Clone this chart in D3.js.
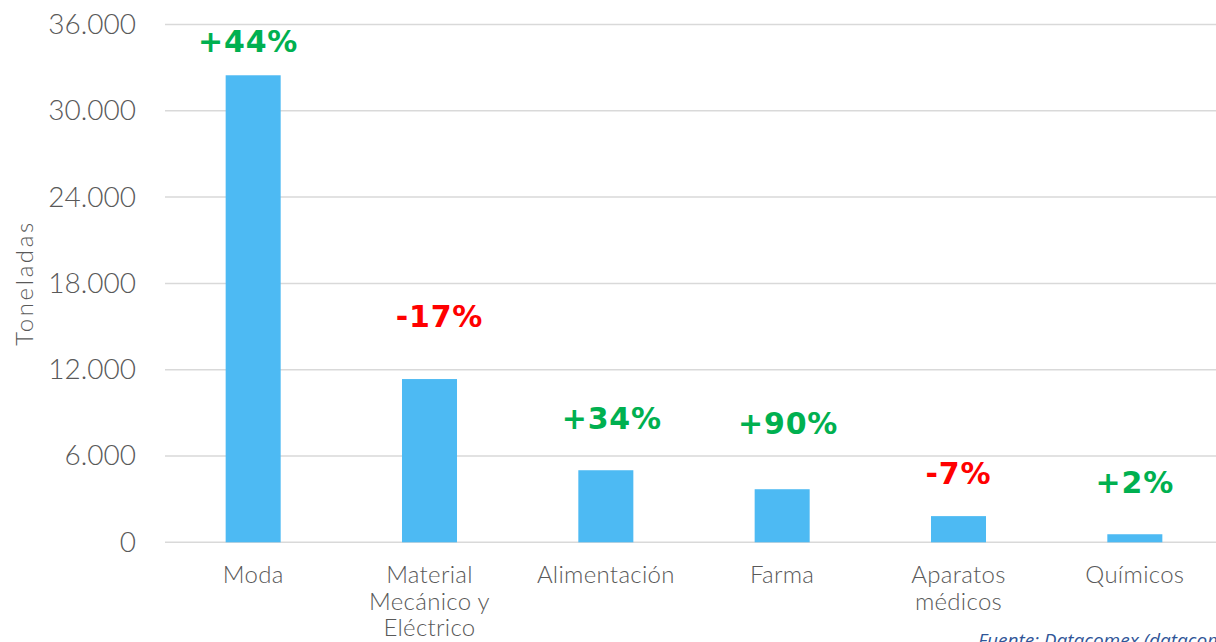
<!DOCTYPE html>
<meta charset="utf-8">
<style>
body { margin: 0; background: #fff; }
svg { display: block; font-family: Lato, "Noto Sans", sans-serif; }
.tick text { fill: #595959; }
</style>
<svg width="1216" height="642"></svg>
<script src="https://d3js.org/d3.v7.min.js"></script>
<script>
// categories (x axis), lines split as in the chart
var categories = ["Moda", "Material Mecánico y Eléctrico", "Alimentación", "Farma", "Aparatos médicos", "Químicos"];
var categoryLines = [["Moda"], ["Material", "Mecánico y", "Eléctrico"], ["Alimentación"], ["Farma"], ["Aparatos", "médicos"], ["Químicos"]];
// toneladas
var toneladas = [32470, 11350, 5010, 3690, 1820, 560];
// variación
var variacion = ["+44%", "-17%", "+34%", "+90%", "-7%", "+2%"];
var yTicks = [0, 6000, 12000, 18000, 24000, 30000, 36000];

// label lift above bar top (px), labels were placed by hand in the original
var labelLift = [23, 52, 41, 55, 32, 41];
var labelShift = [-5, 10, 6, 6, 0, 0];

var svg = d3.select("svg");
var plotLeft = 165, plotRight = 1223, plotTop = 24.5, plotBottom = 542.3;

var x = d3.scaleBand()
    .domain(categories)
    .range([plotLeft, plotRight])
    .paddingInner(0.688)
    .paddingOuter(0.344);

var y = d3.scaleLinear()
    .domain([0, 36000])
    .range([plotBottom, plotTop]);

var fmt = function(d) { return d === 0 ? "0" : d3.format(",")(d).replace(/,/g, "."); };

// gridlines
svg.append("g")
  .selectAll("line")
  .data(yTicks)
  .enter().append("line")
    .attr("x1", plotLeft)
    .attr("x2", plotRight)
    .attr("y1", function(d) { return y(d); })
    .attr("y2", function(d) { return y(d); })
    .attr("stroke", "#d9d9d9")
    .attr("stroke-width", 1.5);

// y axis
var ya = svg.append("g")
    .attr("transform", "translate(" + plotLeft + ",0)")
    .call(d3.axisLeft(y).tickValues(yTicks).tickFormat(fmt).tickSize(0).tickPadding(29));
ya.select(".domain").remove();
ya.selectAll("text")
    .attr("font-size", 28)
    .attr("font-weight", 300)
    .attr("font-family", "Lato, sans-serif");

svg.append("text")
    .attr("transform", "translate(33,283) rotate(-90)")
    .attr("text-anchor", "middle")
    .attr("fill", "#595959")
    .attr("font-size", 24)
    .attr("font-weight", 300)
    .attr("letter-spacing", 2.6)
    .text("Toneladas");

// bars
svg.append("g")
  .selectAll("rect")
  .data(toneladas)
  .enter().append("rect")
    .attr("x", function(d, i) { return x(categories[i]); })
    .attr("width", x.bandwidth())
    .attr("y", function(d) { return y(d); })
    .attr("height", function(d) { return y(0) - y(d); })
    .attr("fill", "#4dbaf3");

// variation labels
svg.append("g")
  .selectAll("text")
  .data(variacion)
  .enter().append("text")
    .attr("x", function(d, i) { return x(categories[i]) + x.bandwidth() / 2 + labelShift[i]; })
    .attr("y", function(d, i) { return y(toneladas[i]) - labelLift[i]; })
    .attr("text-anchor", "middle")
    .attr("font-family", "'DejaVu Sans', sans-serif")
    .attr("font-size", 30)
    .attr("font-weight", 700)
    .attr("letter-spacing", 0.8)
    .attr("fill", function(d) { return d.charAt(0) === "-" ? "#ff0000" : "#00b050"; })
    .text(function(d) { return d; });

// x labels
var xl = svg.append("g")
  .selectAll("text")
  .data(categoryLines)
  .enter().append("text")
    .attr("x", function(d, i) { return x(categories[i]) + x.bandwidth() / 2; })
    .attr("y", 583)
    .attr("text-anchor", "middle")
    .attr("font-size", 24)
    .attr("font-weight", 300)
    .attr("letter-spacing", 0.3)
    .attr("fill", "#595959");
xl.selectAll("tspan")
  .data(function(d) { return d; })
  .enter().append("tspan")
    .attr("x", function() { return d3.select(this.parentNode).attr("x"); })
    .attr("dy", function(d, i) { return i ? 26.5 : 0; })
    .text(function(d) { return d; });

// source
svg.append("text")
    .attr("x", 978)
    .attr("y", 647)
    .attr("font-family", "'Open Sans', sans-serif")
    .attr("font-size", 19)
    .attr("font-style", "italic")
    .attr("fill", "#2f5597")
    .text("Fuente: Datacomex (datacomex.comercio.es)");
</script>
